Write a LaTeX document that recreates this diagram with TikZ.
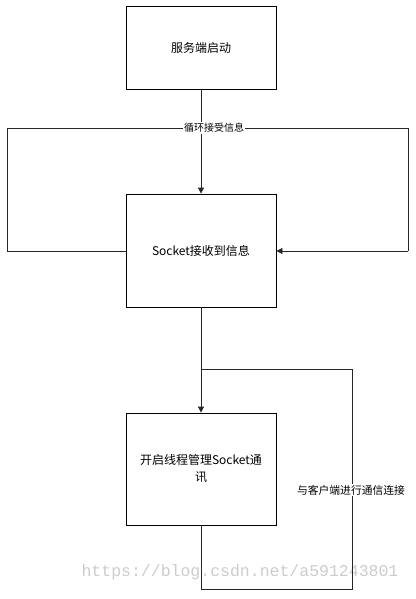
\documentclass[tikz,border=0pt]{standalone}
\usepackage{fontspec}
\setmainfont{Noto Sans CJK SC}
\newfontfamily\wmfont{Liberation Mono}
\usetikzlibrary{arrows.meta}
\begin{document}
\begin{tikzpicture}[x=1pt,y=1pt,
  box/.style={draw=black,line width=0.8pt,minimum width=150pt,inner sep=2pt,font=\fontsize{12}{17}\selectfont,align=center},
  conn/.style={draw=black!85,line width=0.8pt},
  arr/.style={conn,-{Triangle[length=6pt,width=6pt]}},
  lbl/.style={fill=white,inner sep=1pt,font=\fontsize{10}{11}\selectfont}]
\useasboundingbox (0,0) rectangle (415,-599);
\node[text=black!20,font=\wmfont\fontsize{16.5}{18}\selectfont] (wm) at (240,-572) {https://blog.csdn.net/a591243801};
\node[box,minimum height=83pt] (b1) at (201,-48) {服务端启动};
\node[box,minimum height=113pt] (b2) at (201,-250.5) {Socket接收到信息};
\node[box,minimum height=112pt,text width=140pt] (b3) at (201,-469) {开启线程管理Socket通\\讯};
\coordinate (lb) at (7,-251);
\coordinate (lt) at (7,-128);
\coordinate (rt) at (408,-128);
\coordinate (rb) at (408,-251);
\coordinate (bl) at (201,-589);
\coordinate (br) at (352,-589);
\coordinate (tr) at (352,-369);
\coordinate (tl) at (201,-369);
\draw[arr] (b1.south) -- (b2.north);
\draw[arr] (b2.south) -- (b3.north);
\draw[conn] (b2.west |- lb) -- (lb) -- (lt) -- (rt) -- (rb);
\draw[arr] (rb) -- (b2.east |- rb);
\draw[conn] (b3.south) -- (bl) -- (br) -- (tr) -- (tl);
\node[lbl] (l1) at (214,-128) {循环接受信息};
\node[lbl,font=\fontsize{10.8}{12}\selectfont] (l2) at (351,-490) {与客户端进行通信连接};
\end{tikzpicture}
\end{document}
